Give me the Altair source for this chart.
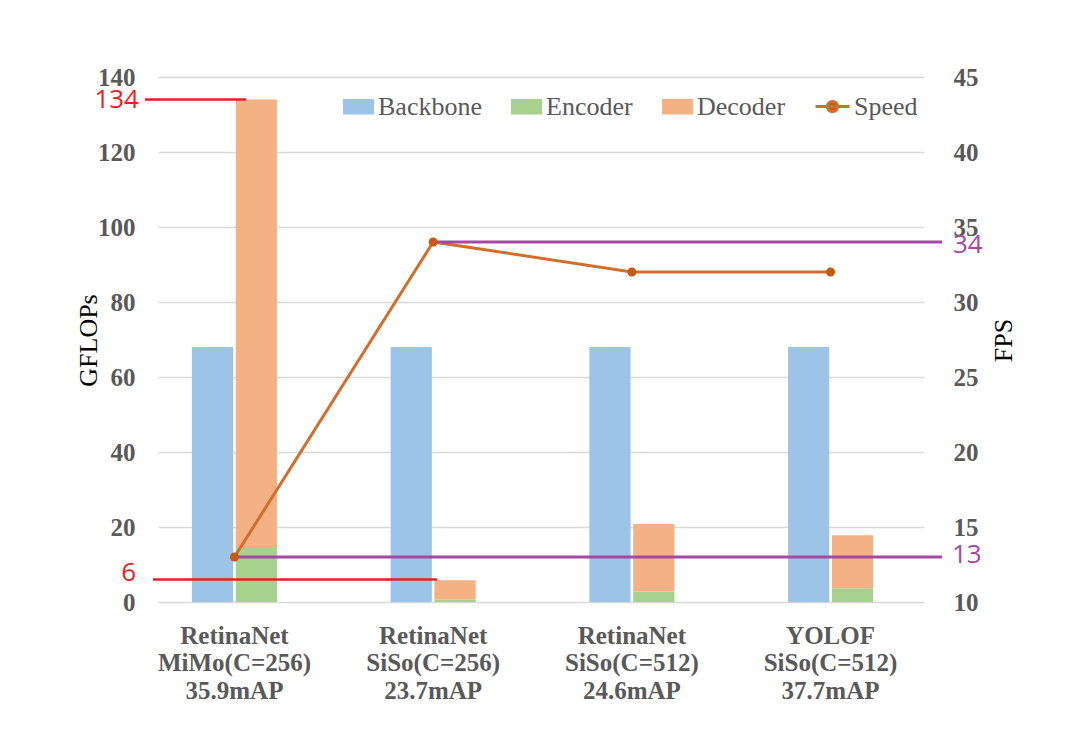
import altair as alt
import pandas as pd

# ---- data ----
models = ["RetinaNet", "RetinaNet", "RetinaNet", "YOLOF"]
configs = ["MiMo(C=256)", "SiSo(C=256)", "SiSo(C=512)", "SiSo(C=512)"]
maps = ["35.9mAP", "23.7mAP", "24.6mAP", "37.7mAP"]
backbone = [68, 68, 68, 68]
encoder = [14.7, 0.6, 2.8, 3.7]
decoder = [119.3, 5.2, 18.0, 14.1]
speed = [13, 34, 32, 32]
parts = ["Backbone", "Encoder", "Decoder"]
part_colors = ["#9DC3E6", "#A9D18E", "#F4B183"]
left_ticks = [0, 20, 40, 60, 80, 100, 120, 140]
right_ticks = [10, 15, 20, 25, 30, 35, 40, 45]

cats = [f"{m}|{c}|{p}" for m, c, p in zip(models, configs, maps)]

rows = []
for i, cat in enumerate(cats):
    rows.append({"cat": cat, "grp": "a", "part": "Backbone", "gflops": backbone[i], "ord": 0})
    rows.append({"cat": cat, "grp": "b", "part": "Encoder", "gflops": encoder[i], "ord": 1})
    rows.append({"cat": cat, "grp": "b", "part": "Decoder", "gflops": decoder[i], "ord": 2})
bars_df = pd.DataFrame(rows)
speed_df = pd.DataFrame({"cat": cats, "fps": speed, "series": ["Speed"] * len(cats)})

SERIF = "Liberation Serif"
GRAY = "#595959"
ORANGE = "#C55A11"
LINE = "#D06E30"
RED = "#ED1C24"
PURPLE = "#A349A4"
ANNO_FONT = "Open Sans"

xscale = alt.Scale(domain=cats, paddingInner=0.572, paddingOuter=0.2135, align=0.4)
yl = alt.Scale(domain=[0, 140], nice=False)
yr = alt.Scale(domain=[10, 45], nice=False)

x_axis = alt.Axis(title=None, labelExpr="split(datum.label, '|')", labelFont=SERIF,
                  labelFontSize=25, labelFontWeight="bold", labelColor=GRAY,
                  labelLineHeight=27.5, labelPadding=21, domain=False, ticks=False,
                  labelAngle=0, grid=False)
yl_axis = alt.Axis(title="GFLOPs", values=left_ticks, grid=True, gridColor="#D9D9D9",
                   gridWidth=1.5, domain=False, ticks=False, labelFont=SERIF,
                   labelFontSize=25, labelFontWeight="bold", labelColor=GRAY,
                   labelPadding=23, titleFont=SERIF, titleFontSize=26,
                   titleFontWeight="normal", titleColor="black", titleX=-70,
                   titleY=263, titleAngle=270, titleAlign="center",
                   titleBaseline="middle")
yr_axis = alt.Axis(orient="right", title="FPS", values=right_ticks, grid=False,
                   domain=False, ticks=False, labelFont=SERIF, labelFontSize=25,
                   labelFontWeight="bold", labelColor=GRAY, labelPadding=29,
                   titleFont=SERIF, titleFontSize=26, titleFontWeight="normal",
                   titleColor="black", titleX=79, titleY=263, titleAngle=270,
                   titleAlign="center", titleBaseline="middle")

bars = alt.Chart(bars_df).mark_bar().encode(
    x=alt.X("cat:N", scale=xscale, sort=cats, axis=x_axis),
    xOffset=alt.XOffset("grp:N", scale=alt.Scale(paddingInner=0.06, paddingOuter=0)),
    y=alt.Y("gflops:Q", scale=yl, stack="zero", axis=yl_axis),
    color=alt.Color("part:N", scale=alt.Scale(domain=parts, range=part_colors),
                    legend=alt.Legend(title=None, orient="none", legendX=185, legendY=14,
                                      direction="horizontal", symbolType="M-1,-0.5H1V0.5H-1Z",
                                      symbolSize=961, symbolStrokeWidth=0, labelFont=SERIF,
                                      labelFontSize=26, labelColor=GRAY, labelOffset=4,
                                      columnPadding=29, padding=0)),
    order=alt.Order("ord:Q"),
)


def red_rule(val, x0, x1):
    return alt.Chart(pd.DataFrame({"gflops": [val]})).mark_rule(color=RED, strokeWidth=2.5).encode(
        x=alt.value(x0), x2=alt.value(x1), y=alt.Y("gflops:Q", axis=yl_axis))


def red_text(val, x0, dy):
    return alt.Chart(pd.DataFrame({"gflops": [val], "t": [str(val)]})).mark_text(
        font=ANNO_FONT, fontSize=26, color=RED, align="right", baseline="middle", dy=dy
    ).encode(x=alt.value(x0), y=alt.Y("gflops:Q", axis=yl_axis), text="t:N")


left = alt.layer(bars, red_rule(134, -13, 88), red_text(134, -19, 0),
                 red_rule(6, -5, 279), red_text(6, -22, -7))

line = alt.Chart(speed_df).mark_line(strokeWidth=3).encode(
    x=alt.X("cat:N", sort=cats, axis=x_axis),
    y=alt.Y("fps:Q", scale=yr, axis=yr_axis),
    stroke=alt.Stroke("series:N", scale=alt.Scale(domain=["Speed"], range=[LINE]),
                      legend=alt.Legend(title=None, orient="none", legendX=656, legendY=11,
                                        symbolType="M-1,0H1M0.3,0A0.3,0.3 0 1,1 -0.3,0A0.3,0.3 0 1,1 0.3,0Z",
                                        symbolSize=1156, symbolStrokeWidth=3,
                                        symbolFillColor=ORANGE, labelFont=SERIF,
                                        labelFontSize=26, labelColor=GRAY, labelOffset=3,
                                        padding=0)),
)

points = alt.Chart(speed_df).mark_circle(size=80, color=ORANGE, opacity=1).encode(
    x=alt.X("cat:N", sort=cats, axis=x_axis),
    y=alt.Y("fps:Q", axis=yr_axis),
)

purple_df = pd.DataFrame({"cat": [cats[0], cats[1]], "fps": [speed[0], speed[1]]})
purple_rules = alt.Chart(purple_df).mark_rule(color=PURPLE, strokeWidth=3).encode(
    x=alt.X("cat:N", sort=cats, axis=x_axis), x2=alt.value(784),
    y=alt.Y("fps:Q", axis=yr_axis))


def purple_text(val, x0, dy):
    return alt.Chart(pd.DataFrame({"fps": [val], "t": [str(val)]})).mark_text(
        font=ANNO_FONT, fontSize=26, color=PURPLE, align="left", baseline="middle", dy=dy
    ).encode(x=alt.value(x0), y=alt.Y("fps:Q", axis=yr_axis), text="t:N")


right = alt.layer(line, purple_rules, points, purple_text(13, 794, -2), purple_text(34, 795, 3))

chart = alt.layer(left, right).resolve_scale(y="independent").properties(
    width=766, height=525,
    padding={"left": 150, "top": 69, "right": 153, "bottom": 124},
    autosize=alt.AutoSizeParams(type="none"),
    background="white",
).configure_view(stroke=None)

chart.save("out.html", embed_options={"renderer": "svg", "actions": False})
